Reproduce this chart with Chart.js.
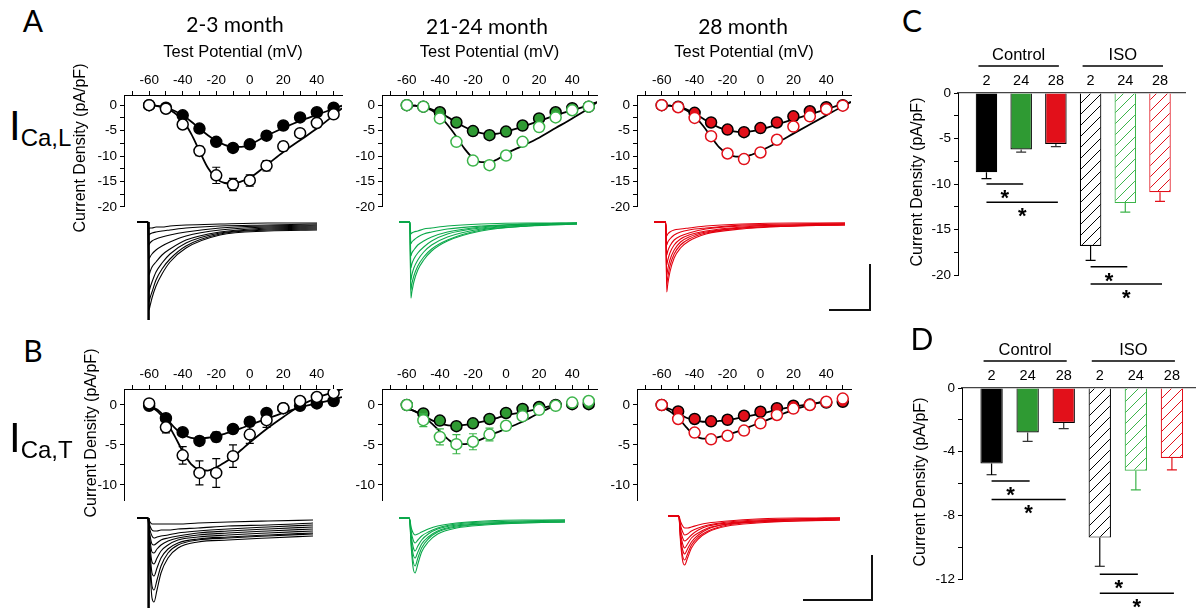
<!DOCTYPE html>
<html>

<head>
    <title>ICa,L and ICa,T current density</title>
    <script src="https://cdn.jsdelivr.net/npm/chart.js@4.4.1/dist/chart.umd.min.js"></script>
    <style>
        body { margin: 0; background: #fff; }
        #fig { position: relative; width: 1197px; height: 608px; overflow: hidden; font-family: 'Liberation Sans', Arial, sans-serif; color: #000; }
        #fig canvas { position: absolute; }
        .lbl { position: absolute; white-space: nowrap; }
        .c { transform: translate(-50%, -50%); }
        .rot { transform: translate(-50%, -50%) rotate(-90deg); font-size: 16px; }
        .panel { font-family: Lato, sans-serif; font-size: 30px; }
        .title { font-family: Lato, sans-serif; font-size: 21px; }
        .row { font-size: 42px; line-height: 1; }
        .row span { font-size: 24px; position: relative; top: 6px; }
        .sb { position: absolute; background: #111; }
    </style>
</head>

<body>
    <div id="fig">
        <div class="lbl panel c" style="left:33px;top:20px">A</div>
        <div class="lbl panel c" style="left:33px;top:350px">B</div>
        <div class="lbl panel c" style="left:912px;top:20px">C</div>
        <div class="lbl panel c" style="left:922px;top:338px">D</div>
        <div class="lbl title c" style="left:235px;top:23px">2-3 month</div>
        <div class="lbl title c" style="left:487px;top:25px">21-24 month</div>
        <div class="lbl title c" style="left:743px;top:25px">28 month</div>
        <div class="lbl row" style="left:9px;top:105px">I<span>Ca,L</span></div>
        <div class="lbl row" style="left:9px;top:417px">I<span>Ca,T</span></div>
        <div class="lbl rot" style="left:80px;top:148px">Current Density (pA/pF)</div>
        <div class="lbl rot" style="left:91px;top:433px">Current Density (pA/pF)</div>
        <div class="lbl rot" style="left:917px;top:182px">Current Density (pA/pF)</div>
        <div class="lbl rot" style="left:920px;top:482px">Current Density (pA/pF)</div>
        <div class="sb" style="left:869px;top:264px;width:2px;height:47px"></div>
        <div class="sb" style="left:829px;top:309px;width:42px;height:2px"></div>
        <div class="sb" style="left:871px;top:555px;width:2px;height:46px"></div>
        <div class="sb" style="left:803px;top:599px;width:70px;height:2px"></div>
    </div>

    <script type="text/javascript">
        // test potentials (mV) and points used for the fitted curves
        const voltage = [-60, -50, -40, -30, -20, -10, 0, 10, 20, 30, 40, 50];
        const fitVoltage = [-60, -55, -50, -45, -40, -35, -30, -25, -20, -15, -10, -5, 0, 10, 20, 30, 40, 50, 55];

        // ICa,L  (control = filled, ISO = open)
        const lCtl2 = [0, -0.5, -2.0, -4.6, -7.2, -8.4, -7.7, -6.0, -4.0, -2.4, -1.4, -0.5];
        const lCtl2Err = [0, 0.1, 0.3, 0.4, 0.5, 0.6, 0.6, 0.5, 0.4, 0.3, 0.3, 0.2];
        const lIso2 = [0, -0.7, -3.8, -9.0, -13.8, -15.6, -14.8, -11.9, -8.1, -5.5, -3.5, -1.8];
        const lIso2Err = [0, 0.3, 0.6, 0.9, 1.6, 1.2, 1.1, 1.0, 0.9, 0.6, 0.4, 0.5];
        const lCtl2Fit = [0, -0.15, -0.5, -1.1, -2.0, -3.2, -4.6, -5.9, -7.0, -7.8, -8.2, -8.2, -7.8, -6.0, -4.5, -3.1, -1.9, -0.7, -0.1];
        const lIso2Fit = [0, -0.2, -0.6, -1.5, -3.0, -5.6, -9.0, -12.3, -14.4, -15.3, -15.4, -15.0, -14.3, -11.8, -9.2, -6.9, -4.6, -2.0, -0.6];

        const lCtl24 = [0, -0.3, -1.4, -3.4, -5.1, -5.9, -5.2, -4.0, -2.6, -1.4, -0.6, -0.3];
        const lCtl24Err = [0, 0.1, 0.2, 0.3, 0.4, 0.4, 0.4, 0.3, 0.3, 0.2, 0.2, 0.1];
        const lIso24 = [0, -0.3, -2.6, -7.2, -10.9, -11.8, -9.9, -7.2, -4.3, -2.4, -1.0, -0.3];
        const lIso24Err = [0, 0.2, 0.4, 0.7, 0.8, 0.8, 0.7, 0.6, 0.5, 0.3, 0.3, 0.2];
        const lCtl24Fit = [0, -0.1, -0.3, -0.8, -1.5, -2.4, -3.4, -4.3, -5.0, -5.5, -5.7, -5.6, -5.2, -4.2, -3.1, -2.0, -1.0, 0.0, 0.6];
        const lIso24Fit = [0, -0.1, -0.4, -1.0, -2.2, -4.0, -6.2, -8.6, -10.4, -11.2, -11.2, -10.6, -9.5, -8.0, -6.4, -4.5, -2.6, -0.6, 0.6];

        const lCtl28 = [0, -0.3, -1.5, -3.4, -4.8, -5.3, -4.5, -3.4, -2.2, -1.2, -0.4, 0];
        const lCtl28Err = [0, 0.1, 0.2, 0.3, 0.3, 0.3, 0.4, 0.3, 0.3, 0.2, 0.2, 0.1];
        const lIso28 = [0, -0.4, -2.5, -6.1, -9.5, -10.6, -9.3, -6.8, -4.2, -2.2, -0.8, -0.1];
        const lIso28Err = [0, 0.2, 0.4, 0.5, 0.7, 0.8, 0.7, 0.6, 0.5, 0.3, 0.3, 0.2];
        const lCtl28Fit = [0, -0.1, -0.3, -0.8, -1.6, -2.6, -3.6, -4.4, -4.9, -5.2, -5.3, -5.1, -4.8, -3.8, -2.8, -1.8, -0.8, 0.2, 0.6];
        const lIso28Fit = [0, -0.1, -0.4, -1.0, -2.2, -4.0, -6.2, -8.3, -9.6, -10.1, -10.1, -9.7, -9.0, -7.4, -5.6, -3.8, -2.0, -0.2, 0.6];

        // ICa,T
        const tCtl2 = [-0.1, -1.65, -3.4, -4.5, -4.0, -3.0, -2.1, -1.0, -0.4, -0.1, 0.2, 0.5];
        const tCtl2Err = [0.2, 0.3, 0.4, 0.5, 0.6, 0.5, 0.5, 0.4, 0.3, 0.2, 0.2, 0.2];
        const tIso2 = [0.2, -2.8, -6.3, -8.5, -8.5, -6.4, -3.7, -1.9, -0.4, 0.5, 1.0, 1.5];
        const tIso2Err = [0.3, 0.7, 1.1, 1.5, 1.8, 1.4, 1.1, 0.9, 0.5, 0.4, 0.3, 0.3];
        const tCtl2Fit = [-0.1, -0.6, -1.6, -2.8, -3.7, -4.1, -4.2, -4.1, -3.9, -3.6, -3.3, -2.9, -2.5, -1.7, -1.0, -0.3, 0.2, 0.7, 1.0];
        const tIso2Fit = [-0.1, -0.8, -2.0, -3.8, -5.8, -7.4, -8.1, -8.2, -7.8, -7.2, -6.5, -5.6, -4.7, -3.0, -1.5, -0.1, 0.9, 1.6, 2.0];

        const tCtl24 = [0, -1.05, -1.95, -2.65, -2.3, -1.75, -1.0, -0.5, -0.25, 0, 0.1, 0.1];
        const tCtl24Err = [0.1, 0.3, 0.4, 0.4, 0.3, 0.3, 0.3, 0.3, 0.2, 0.1, 0.1, 0.1];
        const tIso24 = [0, -1.9, -4.0, -4.9, -4.6, -3.7, -2.6, -1.4, -0.6, -0.1, 0.3, 0.5];
        const tIso24Err = [0.1, 0.8, 1.0, 1.2, 1.0, 0.8, 0.5, 0.4, 0.3, 0.2, 0.2, 0.2];
        const tCtl24Fit = [-0.45, -0.8, -1.3, -1.9, -2.3, -2.55, -2.6, -2.5, -2.3, -2.1, -1.9, -1.6, -1.3, -0.9, -0.45, 0, null, null, null];
        const tIso24Fit = [-0.45, -0.8, -1.4, -2.3, -3.3, -4.3, -4.9, -4.9, -4.7, -4.3, -3.8, -3.4, -2.95, -2.1, -1.0, 0, null, null, null];

        const tCtl28 = [0, -0.8, -1.75, -2.05, -1.85, -1.35, -0.85, -0.4, -0.1, 0.05, 0.3, 0.4];
        const tCtl28Err = [0.1, 0.2, 0.3, 0.3, 0.3, 0.3, 0.3, 0.2, 0.2, 0.1, 0.1, 0.1];
        const tIso28 = [0, -1.75, -3.45, -4.3, -3.85, -3.2, -2.3, -1.25, -0.45, 0, 0.4, 0.8];
        const tIso28Err = [0.1, 0.3, 0.5, 0.5, 0.5, 0.5, 0.4, 0.3, 0.3, 0.2, 0.2, 0.2];
        const tCtl28Fit = [-0.2, -0.5, -1.0, -1.6, -1.9, -2.1, -2.1, -2.0, -1.9, -1.7, -1.5, -1.3, -1.1, -0.6, -0.2, 0.1, 0.5, null, null];
        const tIso28Fit = [-0.2, -0.8, -1.6, -2.8, -3.8, -4.2, -4.2, -4.0, -3.7, -3.4, -3.0, -2.6, -2.2, -1.4, -0.6, 0.0, 0.5, null, null];

        // peak current density bars (C = ICa,L, D = ICa,T)
        const ageGroups = ['2', '24', '28', '2', '24', '28'];
        const peakL = [-8.7, -6.2, -5.6, -16.8, -12.1, -10.9];
        const peakLErr = [0.7, 0.3, 0.3, 1.6, 1.0, 1.0];
        const peakT = [-4.75, -2.8, -2.2, -9.4, -5.2, -4.4];
        const peakTErr = [0.7, 0.55, 0.35, 1.8, 1.2, 0.75];
        const sigL = [[1, 2, -10.0], [1, 3, -12.0], [4, 5, -19.1], [4, 6, -21.0]];
        const sigT = [[1, 2, -5.85], [1, 3, -7.0], [4, 5, -11.7], [4, 6, -12.9]];

        // example current traces (time ms, current a.u.)
        const traceTimeL = [-11, 0, 1, 2, 4, 8, 14, 22, 38, 72, 120, 169];
        const tracesL2 = [
            [0, 0, -88, -84, -76, -64, -52, -40, -26, -13, -9, -8],
            [0, 0, -80, -76, -70, -58, -47, -37, -24, -12, -8, -7],
            [0, 0, -70, -66, -60, -50, -41, -32, -21, -11, -7, -6],
            [0, 0, -53, -50, -45, -40, -33, -27, -18, -10, -6, -5],
            [0, 0, -37, -35, -32, -28, -24, -20, -14, -8, -5, -4],
            [0, 0, -23, -21, -19, -17, -15, -13, -10, -6, -4, -3],
            [0, 0, -13, -12, -11, -10, -9, -8, -6, -4, -3, -2],
            [0, 0, -7, -6, -6, -5, -5, -4, -3, -2, -1, -1]
        ];
        const tracesL24 = [
            [0, 0, -76, -70, -60, -48, -38, -29, -19, -9, -4, -2],
            [0, 0, -68, -62, -54, -44, -35, -27, -18, -8, -4, -2],
            [0, 0, -58, -53, -46, -38, -30, -23, -15, -7, -3, -2],
            [0, 0, -46, -42, -37, -31, -25, -19, -12, -6, -3, -1],
            [0, 0, -34, -31, -28, -23, -19, -15, -10, -5, -2, -1],
            [0, 0, -22, -20, -18, -15, -12, -10, -7, -4, -2, -1],
            [0, 0, -12, -11, -10, -9, -7, -6, -4, -2, -1, -1]
        ];
        const tracesL28 = [
            [0, 0, -70, -62, -50, -36, -26, -19, -12, -7, -4, -3],
            [0, 0, -62, -55, -44, -32, -23, -17, -11, -6, -4, -3],
            [0, 0, -53, -47, -38, -28, -20, -15, -10, -6, -4, -2],
            [0, 0, -43, -38, -31, -23, -17, -13, -9, -5, -3, -2],
            [0, 0, -33, -29, -24, -18, -14, -11, -7, -4, -3, -2],
            [0, 0, -23, -20, -17, -13, -10, -8, -6, -3, -2, -1],
            [0, 0, -14, -12, -10, -8, -7, -6, -4, -2, -1, -1]
        ];
        const traceTimeT = [-11, 0, 2, 4, 6, 9, 13, 20, 30, 50, 80, 120, 165];
        const tracesT2 = [
            [0, 0, -50, -80, -84, -72, -55, -40, -30, -24, -22, -20, -18],
            [0, 0, -42, -68, -72, -62, -48, -35, -27, -22, -20, -18, -16],
            [0, 0, -34, -55, -58, -50, -40, -31, -25, -21, -19, -17, -15],
            [0, 0, -28, -44, -46, -40, -33, -27, -22, -19, -17, -15, -13],
            [0, 0, -22, -34, -35, -31, -27, -23, -20, -17, -15, -13, -11],
            [0, 0, -17, -26, -27, -25, -22, -20, -18, -15, -13, -11, -9],
            [0, 0, -12, -18, -20, -19, -18, -17, -15, -13, -11, -9, -7],
            [0, 0, -8, -12, -13, -13, -12, -12, -11, -10, -8, -7, -5],
            [0, 0, -4, -6, -6, -6, -6, -6, -6, -5, -4, -3, -2]
        ];
        const tracesT24 = [
            [0, 0, -30, -50, -55, -46, -34, -24, -16, -10, -7, -5, -4],
            [0, 0, -26, -43, -48, -40, -30, -21, -14, -9, -6, -5, -4],
            [0, 0, -22, -36, -40, -34, -26, -19, -13, -8, -6, -4, -3],
            [0, 0, -18, -29, -33, -28, -22, -16, -11, -7, -5, -4, -3],
            [0, 0, -14, -22, -25, -22, -18, -14, -10, -6, -4, -3, -2],
            [0, 0, -10, -15, -17, -16, -14, -11, -8, -5, -3, -2, -2]
        ];
        const tracesT28 = [
            [0, 0, -28, -45, -49, -42, -32, -23, -16, -10, -7, -5, -4],
            [0, 0, -25, -40, -44, -38, -29, -21, -15, -9, -6, -5, -4],
            [0, 0, -22, -34, -38, -33, -26, -19, -13, -8, -6, -4, -3],
            [0, 0, -18, -28, -32, -28, -22, -17, -12, -8, -5, -4, -3],
            [0, 0, -14, -22, -25, -23, -19, -14, -10, -7, -5, -3, -2],
            [0, 0, -10, -16, -19, -18, -15, -12, -9, -6, -4, -3, -2],
            [0, 0, -6, -10, -12, -12, -11, -9, -7, -5, -3, -2, -2]
        ];
        const transientTime = [0.6, 0.6];
        const transientL = [0, -98];
        const transientT = [0, -90];

        const GREEN = '#2f9a33', GREEN_LT = '#3cb44a', GREEN_TR = '#0aa84a';
        const RED = '#e2101a', RED_TR = '#e3000f';
        const FONT = "'Liberation Sans', Arial, sans-serif";

        Chart.defaults.font.family = FONT;
        Chart.defaults.color = '#000';
        Chart.defaults.animation = false;

        const fig = document.getElementById('fig');
        function makeCanvas(left, top, w, h) {
            const c = document.createElement('canvas');
            c.width = w; c.height = h;
            c.style.left = left + 'px'; c.style.top = top + 'px';
            c.style.width = w + 'px'; c.style.height = h + 'px';
            fig.insertBefore(c, fig.firstChild);
            return c;
        }
        const pts = (xs, ys) => xs.map((x, i) => ({ x: x, y: ys[i] }));
        const range = (a, b, s) => { const r = []; for (let v = a; v <= b + 1e-9; v += s) r.push(+v.toFixed(2)); return r; };

        // error bars drawn under the markers
        const errorBars = {
            id: 'errorBars',
            beforeDatasetDraw(chart, args) {
                const ds = chart.data.datasets[args.index];
                if (!ds.errors) return;
                const ctx = chart.ctx, y = chart.scales.y;
                ctx.save();
                ctx.strokeStyle = ds.errorColor;
                ctx.lineWidth = 1.2;
                args.meta.data.forEach((p, i) => {
                    const e = ds.errors[i];
                    if (!e) return;
                    const v = ds.data[i].y;
                    const yt = y.getPixelForValue(v + e), yb = y.getPixelForValue(v - e);
                    ctx.beginPath();
                    ctx.moveTo(p.x, yt); ctx.lineTo(p.x, yb);
                    ctx.moveTo(p.x - 4, yt); ctx.lineTo(p.x + 4, yt);
                    ctx.moveTo(p.x - 4, yb); ctx.lineTo(p.x + 4, yb);
                    ctx.stroke();
                });
                ctx.restore();
            }
        };

        function ivChart(area, yMin, yTicks, withTitle, s) {
            const axisH = withTitle ? 55 : 30;
            const left = area[0] - 45, top = area[1] - axisH;
            const c = makeCanvas(left, top, area[2] - left + 8, area[3] - top + 10);
            const fit = ys => ({
                type: 'line', data: pts(fitVoltage, ys), borderColor: '#000', borderWidth: 1.8,
                pointRadius: 0, cubicInterpolationMode: 'monotone', spanGaps: false
            });
            const marks = (ys, err, bg, bd, ec) => ({
                type: 'scatter', data: pts(voltage, ys), errors: err, errorColor: ec,
                pointRadius: 5.5, pointBackgroundColor: bg, pointBorderColor: bd, pointBorderWidth: 1.5
            });
            new Chart(c, {
                type: 'scatter',
                data: {
                    datasets: [
                        marks(s.iso, s.isoErr, '#fff', s.isoColor, s.isoErrColor),
                        marks(s.ctl, s.ctlErr, s.ctlColor, '#000', '#000'),
                        fit(s.isoFit),
                        fit(s.ctlFit)
                    ]
                },
                options: {
                    responsive: false,
                    events: [],
                    layout: { padding: { right: 8, bottom: 10 } },
                    plugins: { legend: { display: false }, tooltip: { enabled: false } },
                    scales: {
                        x: {
                            type: 'linear', position: 'top', min: -75, max: 55,
                            afterBuildTicks: a => { a.ticks = range(-70, 50, 10).map(v => ({ value: v })); },
                            afterFit: a => { a.height = axisH; },
                            grid: { drawOnChartArea: false, tickLength: 4, color: '#000' },
                            border: { color: '#000', width: 1 },
                            ticks: { callback: v => (v % 20 === 0 ? String(v) : ''), font: { size: 13.5 }, padding: 3, autoSkip: false, maxRotation: 0 },
                            title: { display: withTitle, text: 'Test Potential (mV)', font: { size: 16.5 }, padding: { top: 3, bottom: 0 } }
                        },
                        y: {
                            min: yMin, max: 2,
                            afterBuildTicks: a => { a.ticks = yTicks.map(v => ({ value: v })); },
                            afterFit: a => { a.width = 45; },
                            grid: { drawOnChartArea: false, tickLength: 4, color: '#000' },
                            border: { color: '#000', width: 1 },
                            ticks: { callback: v => (v % 5 === 0 ? String(v) : ''), font: { size: 13.5 }, padding: 3, autoSkip: false }
                        }
                    }
                },
                plugins: [errorBars]
            });
        }

        const ticksL = range(-20, 0, 2.5), ticksT = range(-10, 0, 2.5);
        ivChart([124, 95, 342, 208], -20, ticksL, true, { ctl: lCtl2, ctlErr: lCtl2Err, iso: lIso2, isoErr: lIso2Err, ctlFit: lCtl2Fit, isoFit: lIso2Fit, ctlColor: '#000', isoColor: '#000', isoErrColor: '#000' });
        ivChart([382, 95, 597, 208], -20, ticksL, true, { ctl: lCtl24, ctlErr: lCtl24Err, iso: lIso24, isoErr: lIso24Err, ctlFit: lCtl24Fit, isoFit: lIso24Fit, ctlColor: GREEN, isoColor: GREEN_LT, isoErrColor: GREEN_LT });
        ivChart([637, 95, 851, 208], -20, ticksL, true, { ctl: lCtl28, ctlErr: lCtl28Err, iso: lIso28, isoErr: lIso28Err, ctlFit: lCtl28Fit, isoFit: lIso28Fit, ctlColor: RED, isoColor: RED, isoErrColor: '#333' });
        ivChart([124, 389, 342, 502], -12, ticksT, false, { ctl: tCtl2, ctlErr: tCtl2Err, iso: tIso2, isoErr: tIso2Err, ctlFit: tCtl2Fit, isoFit: tIso2Fit, ctlColor: '#000', isoColor: '#000', isoErrColor: '#000' });
        ivChart([382, 389, 597, 502], -12, ticksT, false, { ctl: tCtl24, ctlErr: tCtl24Err, iso: tIso24, isoErr: tIso24Err, ctlFit: tCtl24Fit, isoFit: tIso24Fit, ctlColor: GREEN, isoColor: GREEN_LT, isoErrColor: GREEN_LT });
        ivChart([637, 389, 851, 502], -12, ticksT, false, { ctl: tCtl28, ctlErr: tCtl28Err, iso: tIso28, isoErr: tIso28Err, ctlFit: tCtl28Fit, isoFit: tIso28Fit, ctlColor: RED, isoColor: RED, isoErrColor: '#333' });

        function traceChart(box, times, traces, color, yMin, transient) {
            const c = makeCanvas(box[0], box[1], box[2], box[3]);
            const ds = traces.map(v => ({
                data: pts(times, v), borderColor: color, borderWidth: 1.1,
                pointRadius: 0, cubicInterpolationMode: 'monotone'
            }));
            if (transient) ds.push({ data: pts(transientTime, transient), borderColor: color, borderWidth: 2.5, pointRadius: 0 });
            new Chart(c, {
                type: 'line',
                data: { datasets: ds },
                options: {
                    responsive: false,
                    events: [],
                    layout: { padding: 0 },
                    plugins: { legend: { display: false }, tooltip: { enabled: false } },
                    scales: {
                        x: { type: 'linear', display: false, min: times[0], max: times[times.length - 1] },
                        y: { display: false, min: yMin, max: 8 }
                    }
                }
            });
        }
        traceChart([137, 214, 180, 110], traceTimeL, tracesL2, '#000', -102, transientL);
        traceChart([399, 214, 178, 88], traceTimeL, tracesL24, GREEN_TR, -80);
        traceChart([654, 214, 191, 82], traceTimeL, tracesL28, RED_TR, -74);
        traceChart([137, 510, 176, 98], traceTimeT, tracesT2, '#000', -90, transientT);
        traceChart([399, 510, 166, 66], traceTimeT, tracesT24, GREEN_TR, -58);
        traceChart([668, 508, 172, 62], traceTimeT, tracesT28, RED_TR, -54);

        // bar charts
        function hatch(ctx, color) {
            const p = document.createElement('canvas');
            p.width = 11; p.height = 11;
            const g = p.getContext('2d');
            g.fillStyle = '#fff'; g.fillRect(0, 0, 11, 11);
            g.strokeStyle = color; g.lineWidth = 1;
            g.beginPath(); g.moveTo(-1, 12); g.lineTo(12, -1); g.stroke();
            return ctx.createPattern(p, 'repeat');
        }

        const barDeco = {
            id: 'barDeco',
            afterDatasetsDraw(chart, args, o) {
                const { ctx, chartArea, scales: { x, y } } = chart;
                const meta = chart.getDatasetMeta(0);
                ctx.save();
                ctx.lineWidth = 1.2;
                meta.data.forEach((b, i) => {
                    const yb = y.getPixelForValue(o.values[i] - o.errors[i]);
                    ctx.strokeStyle = o.errColors[i];
                    ctx.beginPath();
                    ctx.moveTo(b.x, b.y); ctx.lineTo(b.x, yb);
                    ctx.moveTo(b.x - 5, yb); ctx.lineTo(b.x + 5, yb);
                    ctx.stroke();
                });
                ctx.strokeStyle = '#000'; ctx.fillStyle = '#000'; ctx.lineWidth = 1.5;
                ctx.textAlign = 'center';
                ctx.textBaseline = 'middle';
                ctx.font = '16.5px ' + FONT;
                [['Control', 1, 3], ['ISO', 4, 6]].forEach(g => {
                    const x0 = x.getPixelForValue(g[1]) - 8, x1 = x.getPixelForValue(g[2]) + 3;
                    const ly = chartArea.top - 27;
                    ctx.beginPath(); ctx.moveTo(x0, ly); ctx.lineTo(x1, ly); ctx.stroke();
                    ctx.fillText(g[0], (x0 + x1) / 2, ly - 11);
                });
                ctx.textBaseline = 'alphabetic';
                ctx.font = 'bold 22px ' + FONT;
                o.sig.forEach(s => {
                    const x0 = x.getPixelForValue(s[0]), x1 = x.getPixelForValue(s[1]) + 2;
                    const ly = y.getPixelForValue(s[2]);
                    ctx.beginPath(); ctx.moveTo(x0, ly); ctx.lineTo(x1, ly); ctx.stroke();
                    ctx.fillText('*', (x0 + x1) / 2, ly + 21);
                });
                ctx.restore();
            }
        };

        function barChart(box, yMin, yStep, labelStep, values, errors, sig, xMax, padR, padB) {
            const c = makeCanvas(box[0], box[1], box[2], box[3]);
            const ctx = c.getContext('2d');
            const fills = ['#000', GREEN, RED, hatch(ctx, '#000'), hatch(ctx, GREEN_LT), hatch(ctx, RED)];
            const borders = ['#000', '#000', '#000', '#000', GREEN_LT, RED];
            const errColors = ['#000', '#333', '#333', '#000', GREEN_LT, RED];
            new Chart(c, {
                type: 'bar',
                data: {
                    datasets: [{
                        data: values.map((v, i) => ({ x: i + 1, y: v })),
                        backgroundColor: fills, borderColor: borders, borderWidth: 1.2,
                        barPercentage: 0.62, categoryPercentage: 1
                    }]
                },
                options: {
                    responsive: false,
                    events: [],
                    layout: { padding: { right: padR, bottom: padB } },
                    plugins: {
                        legend: { display: false }, tooltip: { enabled: false },
                        barDeco: { values: values, errors: errors, errColors: errColors, sig: sig }
                    },
                    scales: {
                        x: {
                            type: 'linear', position: 'top', min: 0.18, max: xMax, offset: false,
                            afterBuildTicks: a => { a.ticks = ageGroups.map((g, i) => ({ value: i + 1 })); },
                            afterFit: a => { a.height = 53; },
                            grid: { display: false, drawTicks: false },
                            border: { display: true, color: '#444', width: 1.2 },
                            ticks: { callback: v => ageGroups[v - 1], font: { size: 14.5 }, padding: 3, autoSkip: false, maxRotation: 0 }
                        },
                        y: {
                            min: yMin, max: 0,
                            afterBuildTicks: a => { a.ticks = range(yMin, 0, yStep).map(v => ({ value: v })); },
                            afterFit: a => { a.width = 45; },
                            grid: { drawOnChartArea: false, tickLength: 4, color: '#000' },
                            border: { color: '#000', width: 1 },
                            ticks: { callback: v => (v % labelStep === 0 ? String(v) : ''), font: { size: 13.5 }, padding: 3, autoSkip: false }
                        }
                    }
                },
                plugins: [barDeco]
            });
        }
        barChart([913, 40, 277, 265], -20, 2.5, 5, peakL, peakLErr, sigL, 6.72, 5, 30);
        barChart([917, 335, 280, 273], -12, 2, 4, peakT, peakTErr, sigT, 6.64, 2, 29);
    </script>
</body>

</html>
